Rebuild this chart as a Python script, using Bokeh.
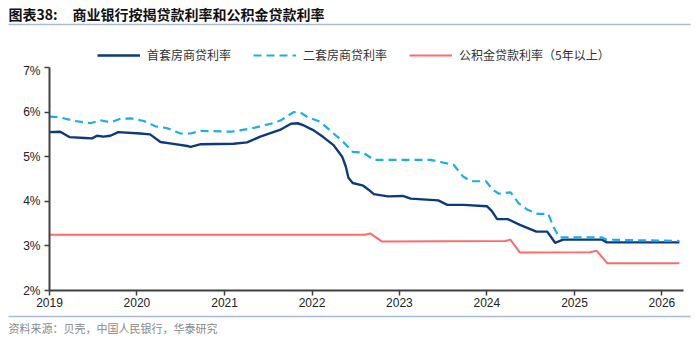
import pandas as pd
from bokeh.plotting import figure
from bokeh.layouts import column
from bokeh.models import (Legend, LegendItem, FixedTicker, PrintfTickFormatter,
                          DatetimeTickFormatter, Range1d)
from bokeh.core.properties import value
from bokeh.embed import file_html
from bokeh.resources import INLINE

# ---------------- data ----------------
first_dates = ["2019-01-01", "2019-02-15", "2019-03-25", "2019-05-28", "2019-06-28", "2019-07-18",
               "2019-08-14", "2019-09-12", "2019-10-15", "2020-01-15", "2020-02-25", "2020-04-08",
               "2020-05-18", "2020-07-30", "2020-08-12", "2020-09-24", "2021-02-07", "2021-04-05",
               "2021-05-30", "2021-08-20", "2021-10-05", "2021-11-02", "2021-11-28", "2022-01-08",
               "2022-02-17", "2022-04-01", "2022-05-07", "2022-05-22", "2022-06-02", "2022-06-20",
               "2022-08-03", "2022-08-25", "2022-09-16", "2022-11-14", "2023-01-15", "2023-02-17",
               "2023-06-12", "2023-07-20", "2023-09-25", "2024-01-01", "2024-01-22", "2024-02-13",
               "2024-03-28", "2024-05-18", "2024-06-20", "2024-07-26", "2024-09-09", "2024-10-12",
               "2024-11-14", "2025-04-26", "2025-05-16", "2026-03-15"]
first_rate = [5.55, 5.56, 5.44, 5.42, 5.41, 5.47,
              5.45, 5.47, 5.55, 5.52, 5.50, 5.33,
              5.30, 5.24, 5.22, 5.28, 5.29, 5.32,
              5.45, 5.60, 5.74, 5.75, 5.70, 5.59,
              5.44, 5.26, 5.00, 4.78, 4.53, 4.41,
              4.35, 4.26, 4.16, 4.11, 4.12, 4.06,
              4.02, 3.92, 3.92, 3.89, 3.78, 3.60,
              3.60, 3.47, 3.40, 3.32, 3.32, 3.07,
              3.14, 3.14, 3.08, 3.08]

second_dates = ["2019-01-01", "2019-02-15", "2019-04-18", "2019-06-20", "2019-07-18", "2019-07-30",
                "2019-09-12", "2019-10-24", "2019-12-05", "2020-01-30", "2020-03-18", "2020-05-06",
                "2020-07-01", "2020-08-12", "2020-09-24", "2021-01-27", "2021-04-20", "2021-07-13",
                "2021-08-22", "2021-10-16", "2021-11-14", "2021-12-13", "2022-02-05", "2022-04-01",
                "2022-05-12", "2022-06-20", "2022-08-03", "2022-09-16", "2023-05-12", "2023-07-01",
                "2023-08-15", "2023-09-23", "2023-10-26", "2023-12-28", "2024-01-26", "2024-02-20",
                "2024-04-09", "2024-05-12", "2024-06-19", "2024-07-30", "2024-09-13", "2024-10-04",
                "2024-10-27", "2024-11-03", "2025-04-26", "2025-05-16", "2026-03-15"]
second_rate = [5.90, 5.88, 5.80, 5.75, 5.79, 5.82,
               5.77, 5.85, 5.86, 5.80, 5.68, 5.64,
               5.52, 5.52, 5.58, 5.56, 5.63, 5.74,
               5.81, 6.00, 5.99, 5.89, 5.78, 5.52,
               5.33, 5.11, 5.09, 4.93, 4.93, 4.87,
               4.82, 4.56, 4.45, 4.45, 4.26, 4.17,
               4.20, 3.96, 3.81, 3.72, 3.72, 3.44,
               3.21, 3.19, 3.19, 3.14, 3.11]

fund_dates = ["2019-01-01", "2022-08-10", "2022-09-01", "2022-10-19", "2024-03-18", "2024-04-08",
              "2024-05-18", "2025-03-06", "2025-04-04", "2025-05-18", "2026-03-15"]
fund_rate = [3.25, 3.25, 3.28, 3.10, 3.11, 3.14,
             2.85, 2.86, 2.89, 2.61, 2.61]

year_ticks = ["2019", "2020", "2021", "2022", "2023", "2024", "2025", "2026"]
y_ticks = [2, 3, 4, 5, 6, 7]

series_names = ["首套房商贷利率", "二套房商贷利率", "公积金贷款利率（5年以上）"]
title_tag = "图表38:"
title_text = "商业银行按揭贷款利率和公积金贷款利率"
source_text = "资料来源：贝壳，中国人民银行，华泰研究"

# ---------------- styles ----------------
W = 699
H_TOP, H_MAIN, H_BOT = 63, 249, 28
CJK = "Noto Sans CJK SC"
NAVY, CYAN, RED = "#0B3A7E", "#18AFEA", "#FF6B6B"
SEP = "#A9BCD6"
styles = [dict(line_color=NAVY, line_width=2.4),
          dict(line_color=CYAN, line_width=2.2, line_dash="8 5"),
          dict(line_color=RED, line_width=2.0)]


def blank(height):
    f = figure(width=W, height=height, output_backend="svg", toolbar_location=None,
               min_border=0, x_range=Range1d(0, W), y_range=Range1d(height, 0),
               x_axis_location=None, y_axis_location=None)
    f.grid.visible = False
    f.outline_line_color = None
    f.background_fill_color = "white"
    f.border_fill_color = "white"
    f.frame_align = False
    return f


# ---------------- header: title, rule, legend ----------------
top = blank(H_TOP)
top.text(x=[8, 72], y=[13, 13], text=[title_tag, title_text], text_font=value(CJK),
         text_font_size="14px", text_font_style="bold", text_color="#111111",
         text_baseline="middle")
top.segment(x0=[8], y0=[24], x1=[690], y1=[24], line_color=SEP, line_width=1.3)
nan = float("nan")
proxies = [top.line(x=[nan], y=[nan], **s) for s in styles]
legend = Legend(items=[LegendItem(label=n, renderers=[r]) for n, r in zip(series_names, proxies)],
                orientation="horizontal", location=(97, 0),
                glyph_width=43, glyph_height=14, label_standoff=7, spacing=22,
                padding=0, margin=0, border_line_color=None, background_fill_alpha=0,
                label_text_font=CJK, label_text_font_size="12px",
                label_text_color="#333333", label_height=14)
top.add_layout(legend, "center")

# ---------------- main chart ----------------
p = figure(width=W, height=H_MAIN, output_backend="svg", toolbar_location=None,
           x_axis_type="datetime", min_border_left=49, min_border_right=16,
           min_border_top=4, min_border_bottom=22)
p.frame_align = False
p.x_range = Range1d(pd.Timestamp("2019-01-01"), pd.Timestamp("2026-04-01"))
p.y_range = Range1d(2, 7)
p.outline_line_color = None
p.grid.visible = False
p.background_fill_color = "white"
p.border_fill_color = "white"

p.line(pd.to_datetime(first_dates), first_rate, **styles[0])
p.line(pd.to_datetime(second_dates), second_rate, **styles[1])
p.line(pd.to_datetime(fund_dates), fund_rate, **styles[2])

p.yaxis.ticker = FixedTicker(ticks=y_ticks)
p.yaxis.formatter = PrintfTickFormatter(format="%d%%")
p.xaxis.ticker = FixedTicker(ticks=[pd.Timestamp(y + "-01-01").value / 1e6 for y in year_ticks])
p.xaxis.formatter = DatetimeTickFormatter(years="%Y", months="%Y", days="%Y", hours="%Y")
for ax in (p.xaxis[0], p.yaxis[0]):
    ax.axis_line_color = "#404040"
    ax.axis_line_width = 2
    ax.major_tick_line_color = "#404040"
    ax.major_tick_line_width = 1.5
    ax.major_tick_out = 5
    ax.major_tick_in = 0
    ax.minor_tick_line_color = None
    ax.major_label_text_font = "Liberation Sans"
    ax.major_label_text_font_size = "12px"
    ax.major_label_text_color = "#222222"
p.xaxis.major_label_standoff = 2
p.yaxis.major_label_standoff = 4

# ---------------- footer: rule and source ----------------
bot = blank(H_BOT)
bot.segment(x0=[8], y0=[4], x1=[690], y1=[4], line_color=SEP, line_width=1.3)
bot.text(x=[8], y=[15], text=[source_text], text_font=value(CJK), text_font_size="11px",
         text_color="#8a8a8a", text_baseline="middle")

layout = column(top, p, bot, spacing=0)
open("out.html", "w").write(file_html(layout, INLINE))
